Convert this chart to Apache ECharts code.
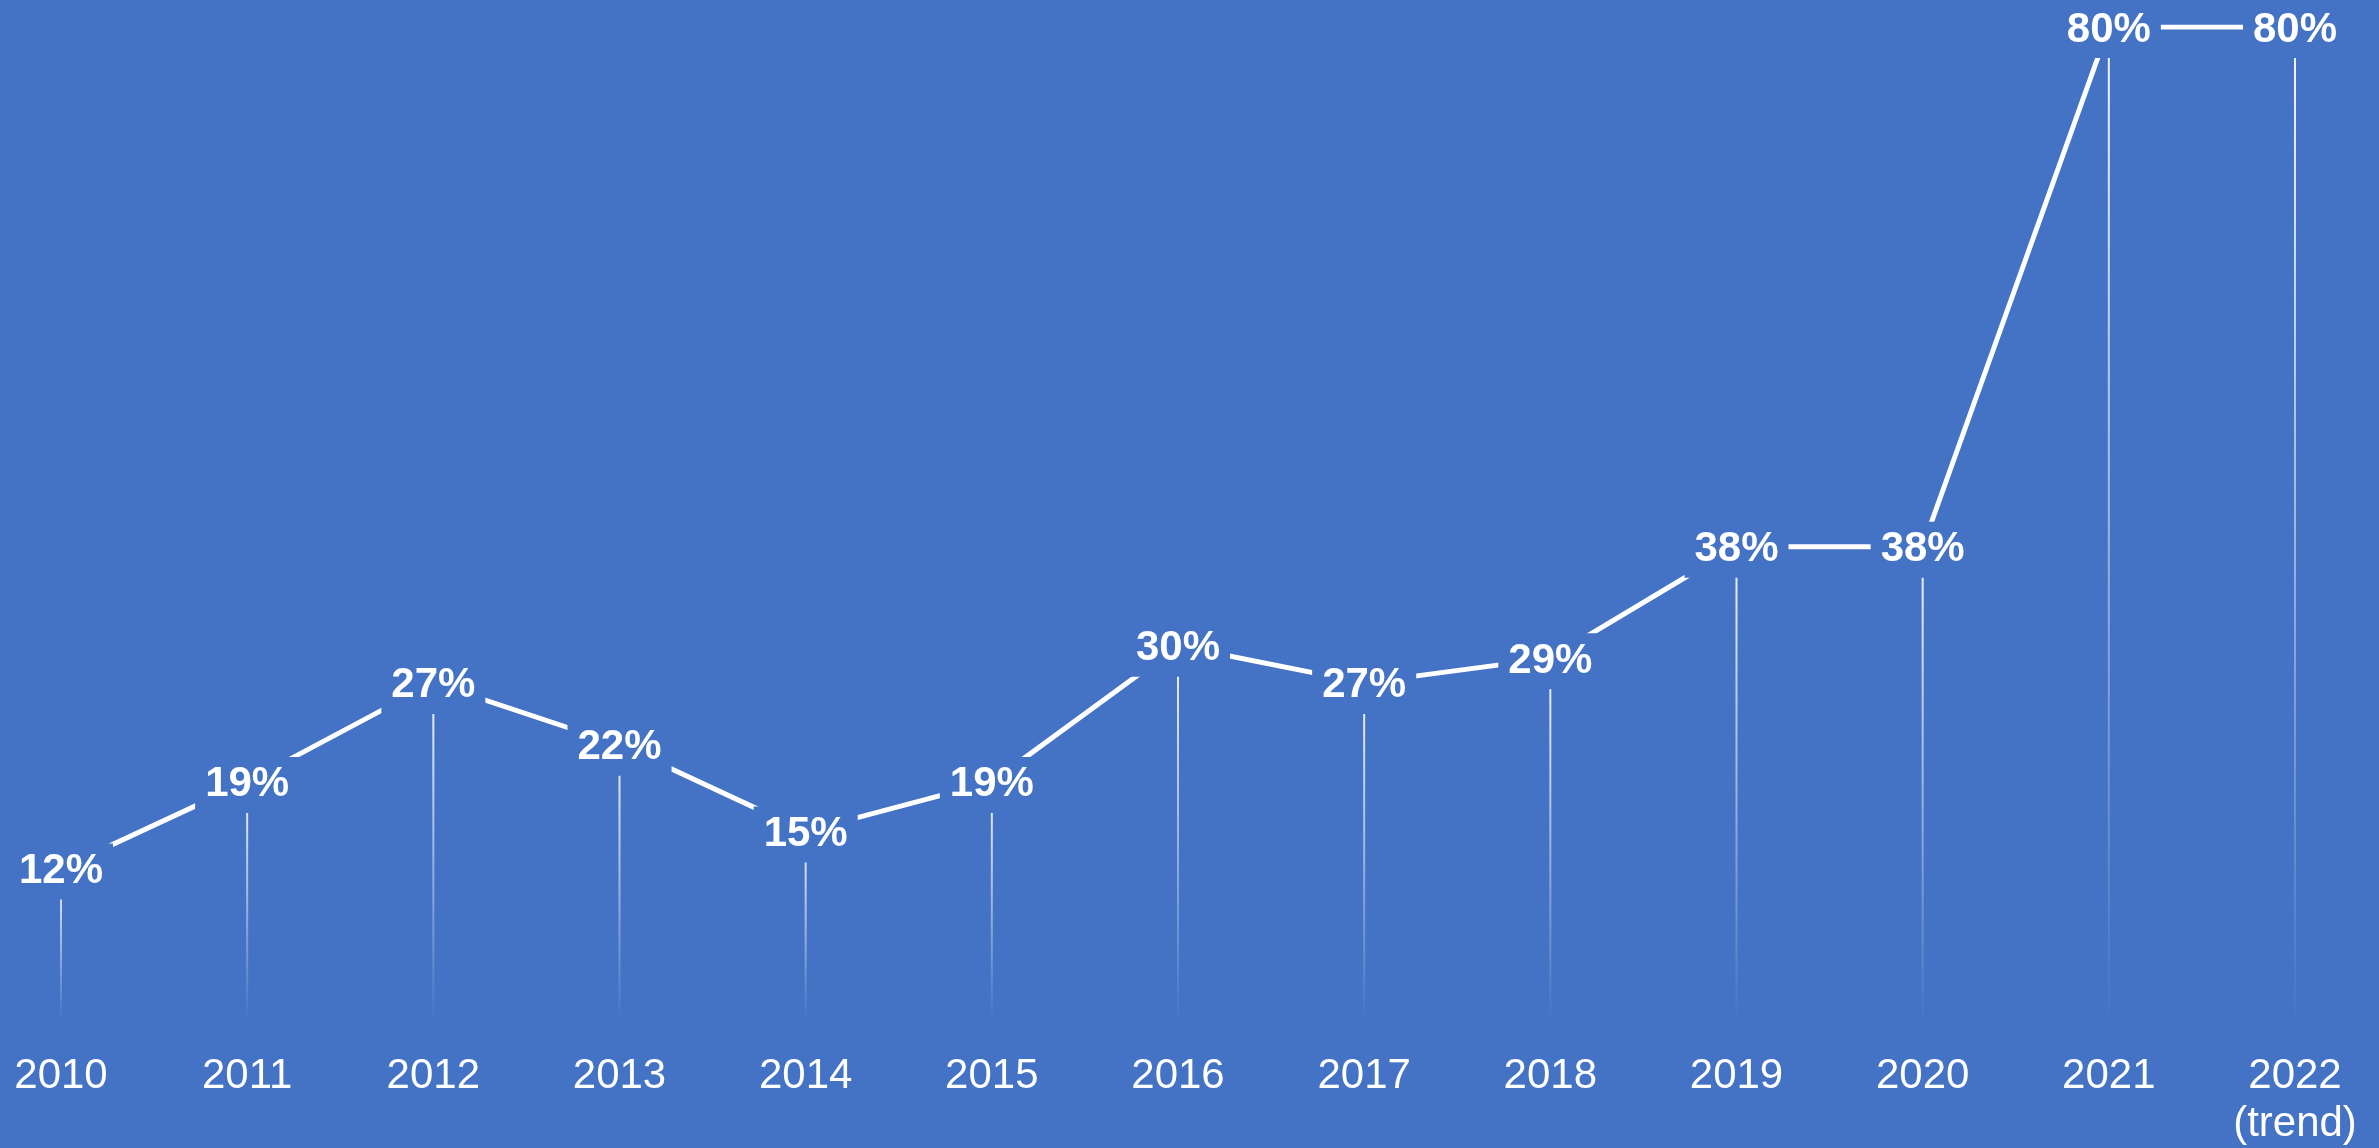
<!DOCTYPE html>
<html>
<head>
<meta charset="utf-8">
<script src="https://cdn.jsdelivr.net/npm/echarts@6/dist/echarts.min.js"></script>
<style>
  html, body { margin: 0; padding: 0; background: #4472C4; }
  #chart { width: 2379px; height: 1148px; }
</style>
</head>
<body>
<div id="chart"></div>
<script>
// Yearly share, in percent
const years = ['2010', '2011', '2012', '2013', '2014', '2015', '2016', '2017', '2018', '2019', '2020', '2021', '2022\n(trend)'];
const shares = [12, 19, 27, 22, 15, 19, 30, 27, 29, 38, 38, 80, 80];

const BG = '#4472C4';
const FONT = "'Liberation Sans', Arial, sans-serif";

const chart = echarts.init(document.getElementById('chart'));
chart.setOption({
  backgroundColor: BG,
  animation: false,
  grid: { left: 61, right: 84, top: 27, bottom: 127 },
  xAxis: {
    type: 'category',
    data: years,
    boundaryGap: false,
    axisLine: { show: false },
    axisTick: { show: false },
    splitLine: { show: false },
    axisLabel: {
      color: '#ffffff',
      fontFamily: FONT,
      fontSize: 42,
      lineHeight: 48,
      margin: 35,
      interval: 0
    }
  },
  yAxis: {
    type: 'value',
    min: 0,
    max: 80,
    show: false
  },
  series: [
    {
      // thin fading drop lines under each point
      type: 'bar',
      data: shares,
      barWidth: 2,
      clip: false,
      z: 1,
      silent: true,
      itemStyle: {
        color: new echarts.graphic.LinearGradient(0, 0, 0, 1, [
          { offset: 0, color: 'rgba(255,255,255,0.95)' },
          { offset: 1, color: 'rgba(255,255,255,0.02)' }
        ])
      }
    },
    {
      type: 'line',
      data: shares,
      z: 3,
      symbol: 'circle',
      symbolSize: 1,
      itemStyle: { color: 'rgba(255,255,255,0)' },
      lineStyle: { color: '#ffffff', width: 5 },
      label: {
        show: true,
        position: 'inside',
        offset: [0, 3],
        formatter: p => p.value + '%',
        color: '#ffffff',
        fontFamily: FONT,
        fontWeight: 'bold',
        fontSize: 42,
        backgroundColor: BG,
        padding: [10, 10, 4, 10]
      }
    }
  ]
});
</script>
</body>
</html>
